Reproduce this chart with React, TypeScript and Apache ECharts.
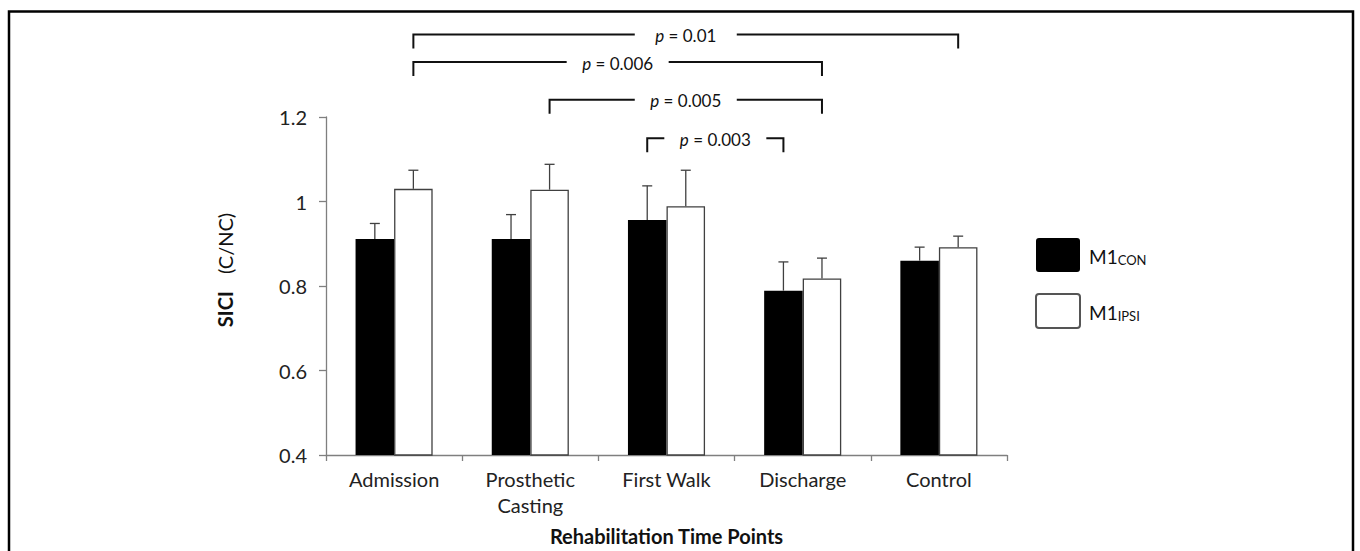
import React, { useEffect, useRef } from "react";
import * as echarts from "echarts";

// ---- data ----
const categories = ["Admission", "Prosthetic\nCasting", "First Walk", "Discharge", "Control"];
const m1Con = [0.911, 0.911, 0.956, 0.789, 0.86];
const m1ConErr = [0.037, 0.058, 0.081, 0.068, 0.032];
const m1Ipsi = [1.03, 1.028, 0.989, 0.818, 0.892];
const m1IpsiErr = [0.044, 0.06, 0.085, 0.048, 0.026];
const yMin = 0.4;
const yMax = 1.2;
const yStep = 0.2;
// brackets: [fromCategory, fromSeries(0=CON,1=IPSI), toCategory, toSeries, level]
const bracketData = [
  [0, 1, 4, 1, 1.395],
  [0, 1, 3, 1, 1.33],
  [1, 1, 3, 1, 1.241],
  [2, 0, 3, 0, 1.15],
];
const bracketLabels = ["0.01", "0.006", "0.005", "0.003"];

const FONT = "Lato, 'Open Sans', sans-serif";
const BAR_FRAC = 0.283;
const BAR_OFF = BAR_FRAC / 2;
const LEGEND_ICON =
  "path://M3,0 H41 Q44,0 44,3 V31 Q44,34 41,34 H3 Q0,34 0,31 V3 Q0,0 3,0 Z";

function errorRenderer(side: number) {
  return (params: any, api: any) => {
    const band = api.size([1, 0])[0];
    const base = api.coord([api.value(0), api.value(1)]);
    const top = api.coord([api.value(0), api.value(1) + api.value(2)]);
    const x = base[0] + side * BAR_OFF * band;
    const style = { stroke: "#404040", lineWidth: 1.3 };
    return {
      type: "group",
      children: [
        { type: "line", shape: { x1: x, y1: base[1], x2: x, y2: top[1] }, style },
        { type: "line", shape: { x1: x - 5, y1: top[1], x2: x + 5, y2: top[1] }, style },
      ],
    };
  };
}

function bracketRenderer(params: any, api: any) {
  const band = api.size([1, 0])[0];
  const off = (s: number) => (s === 0 ? -1 : 1) * BAR_OFF * band;
  const p1 = api.coord([api.value(0), api.value(4)]);
  const p2 = api.coord([api.value(2), api.value(4)]);
  const x1 = p1[0] + off(api.value(1));
  const x2 = p2[0] + off(api.value(3));
  const y = p1[1];
  const cx = (x1 + x2) / 2;
  const half = 51;
  const drop = 14;
  const ls = { stroke: "#111", lineWidth: 2, fill: null };
  return {
    type: "group",
    children: [
      { type: "polyline", shape: { points: [[x1, y + drop], [x1, y], [cx - half, y]] }, style: ls },
      { type: "polyline", shape: { points: [[cx + half, y], [x2, y], [x2, y + drop]] }, style: ls },
      {
        type: "text",
        x: cx,
        y: y + 1,
        style: {
          text: "{i|p}{n| = " + bracketLabels[params.dataIndex] + "}",
          align: "center",
          verticalAlign: "middle",
          rich: {
            i: { fontFamily: FONT, fontSize: 17, fontStyle: "italic", fill: "#111" },
            n: { fontFamily: FONT, fontSize: 17, fill: "#111" },
          },
        },
      },
    ],
  };
}

export default function App() {
  const ref = useRef<HTMLDivElement>(null);
  useEffect(() => {
    const chart = echarts.init(ref.current!, null, { renderer: "svg" });
    const option: any = {
      animation: false,
      backgroundColor: "#fff",
      grid: { left: 326, right: 353, top: 117, bottom: 90.3, containLabel: false },
      legend: {
        orient: "vertical",
        left: 1030,
        top: 233,
        itemWidth: 44,
        itemHeight: 34,
        itemGap: 21,
        icon: LEGEND_ICON,
        selectedMode: false,
        data: [
          { name: "M1con" },
          { name: "M1ipsi", itemStyle: { color: "#fff", borderColor: "#555", borderWidth: 2 } },
        ],
        formatter: (name: string) =>
          name === "M1con" ? "{a|M1}{b|CON}" : "{a|M1}{b|IPSI}",
        textStyle: {
          rich: {
            a: { fontFamily: FONT, fontSize: 19, color: "#111", padding: [4, 0, 0, 4], verticalAlign: "bottom", lineHeight: 22 },
            b: { fontFamily: FONT, fontSize: 13, color: "#111", padding: [4, 0, 0, 0], verticalAlign: "bottom", lineHeight: 20 },
          },
        },
      },
      xAxis: {
        type: "category",
        data: categories,
        name: "Rehabilitation Time Points",
        nameLocation: "middle",
        nameGap: 71,
        nameTextStyle: { fontFamily: FONT, fontSize: 20, fontWeight: "bold", color: "#111" },
        axisLine: { show: true, lineStyle: { color: "#7f7f7f", width: 1.3 } },
        axisTick: { show: true, length: 6, lineStyle: { color: "#7f7f7f", width: 1.3 } },
        axisLabel: {
          interval: 0,
          margin: 11,
          fontFamily: FONT,
          fontSize: 20,
          lineHeight: 26,
          color: "#222",
        },
      },
      yAxis: {
        type: "value",
        min: yMin,
        max: yMax,
        interval: yStep,
        axisLine: { show: true, lineStyle: { color: "#7f7f7f", width: 1.3 } },
        axisTick: { show: true, length: 7, lineStyle: { color: "#7f7f7f", width: 1.3 } },
        splitLine: { show: false },
        axisLabel: { margin: 19, fontFamily: FONT, fontSize: 20, color: "#222" },
      },
      graphic: [
        {
          type: "rect",
          silent: true,
          shape: { x: 9, y: 11.5, width: 1344, height: 600 },
          style: { fill: null, stroke: "#000", lineWidth: 2.5 },
        },
        {
          type: "text",
          x: 225,
          y: 270,
          rotation: Math.PI / 2,
          style: {
            text: "{b|SICI}{n|(C/NC)}",
            align: "center",
            verticalAlign: "middle",
            rich: {
              b: { fontFamily: FONT, fontSize: 20, fontWeight: "bold", fill: "#111", padding: [0, 17, 0, 0] },
              n: { fontFamily: FONT, fontSize: 20, fill: "#111" },
            },
          },
        },
      ],
      series: [
        {
          name: "M1con",
          type: "bar",
          data: m1Con,
          barWidth: BAR_FRAC * 100 + "%",
          barGap: "0%",
          itemStyle: { color: "#000" },
          z: 2,
        },
        {
          name: "M1ipsi",
          type: "bar",
          data: m1Ipsi,
          barWidth: BAR_FRAC * 100 + "%",
          barGap: "0%",
          itemStyle: { color: "#fff", borderColor: "#404040", borderWidth: 1.3 },
          z: 2,
        },
        {
          type: "custom",
          name: "errCon",
          renderItem: errorRenderer(-1),
          data: m1Con.map((v, i) => [i, v, m1ConErr[i]]),
          encode: { x: 0, y: 1 },
          z: 3,
        },
        {
          type: "custom",
          name: "errIpsi",
          renderItem: errorRenderer(1),
          data: m1Ipsi.map((v, i) => [i, v, m1IpsiErr[i]]),
          encode: { x: 0, y: 1 },
          z: 3,
        },
        {
          type: "custom",
          name: "brackets",
          renderItem: bracketRenderer,
          data: bracketData,
          encode: { x: [0, 2], y: 4 },
          clip: false,
          z: 4,
        },
      ],
    };
    chart.setOption(option);
    return () => chart.dispose();
  }, []);
  return (
    <div
      ref={ref}
      style={{ position: "absolute", left: 0, top: 0, width: 1360, height: 551 }}
    />
  );
}
